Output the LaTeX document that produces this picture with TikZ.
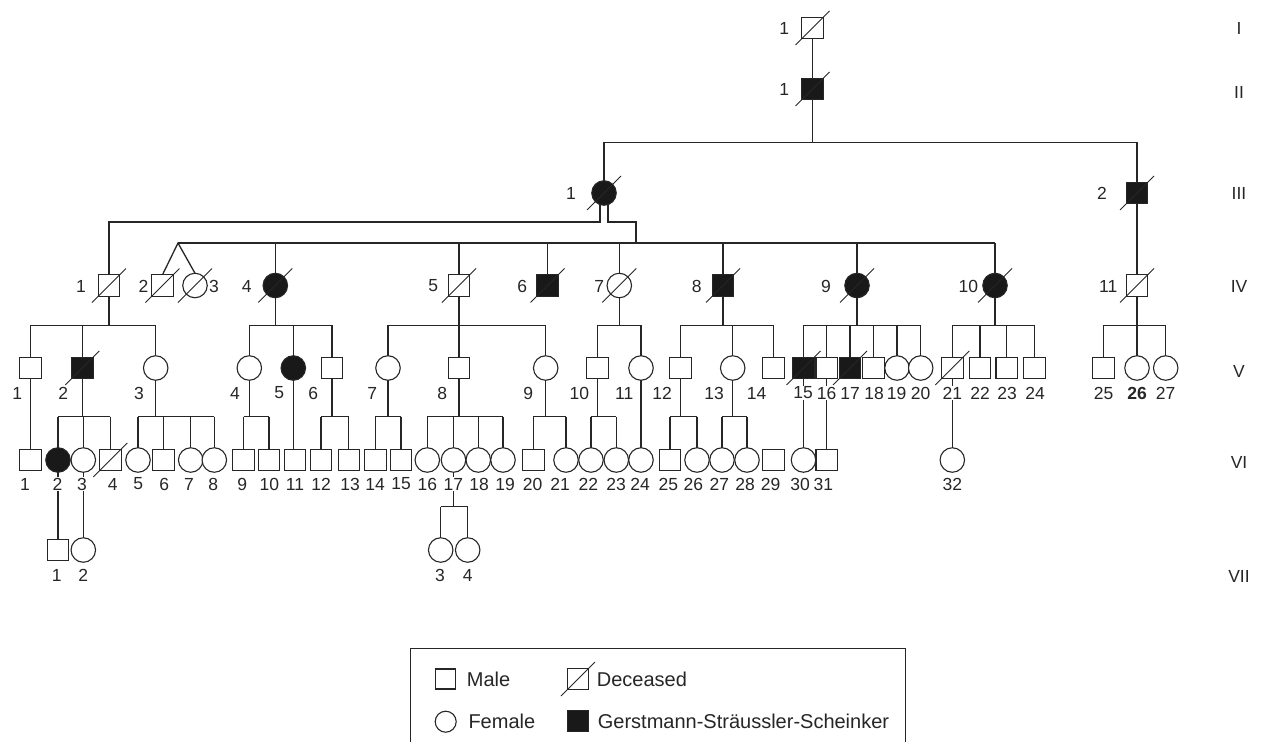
\documentclass[tikz,border=0pt]{standalone}
\usepackage{fontspec}
\setmainfont{Liberation Sans}
\newcommand\pedfam[5]{%
  \coordinate (yb) at (0,#2);
  \draw[conn] (#1.south) -- (#1.south |- yb);
  \draw[conn] (#3.north |- yb) -- (#4.north |- yb);
  \foreach \c in {#5} {\draw[conn] (\c.north |- yb) -- (\c.north);}
}
\newcommand\dead[1]{\draw[slash] ([shift={(-17,17)}]#1.center) -- ([shift={(17,-17)}]#1.center);}
\newcommand\direct[2]{\draw[conn] (#1.south) -- (#1.south |- #2.north);}
\begin{document}
\begin{tikzpicture}[x=1pt,y=-1pt,
 sym/.style={draw=black!85, line width=1.1pt, fill=white, inner sep=0pt, outer sep=0pt},
 male/.style={sym, rectangle, minimum size=21.5pt},
 female/.style={sym, circle, minimum size=24.5pt},
 aff/.style={fill=black!90},
 conn/.style={line width=1.3pt, draw=black!85},
 slash/.style={line width=0.9pt, draw=black!85},
 lbl/.style={font=\fontsize{17.5}{20}\selectfont, text=black!85, inner sep=1pt},
 lblw/.style={lbl, fill=white},
 lgd/.style={font=\fontsize{20}{22}\selectfont, text=black!85, inner sep=0pt, anchor=west}]
\useasboundingbox (0,0) rectangle (1263,742);
% ---------- symbols ----------
\node[male] (I1) at (812.5,28) {};
\node[male,aff] (II1) at (812.5,89) {};
\node[female,aff] (III1) at (604,193) {};
\node[male,aff] (III2) at (1137,193) {};
% IV
\node[male] (IV1) at (109,285.5) {};
\node[male] (IV2) at (162.5,285.5) {};
\node[female] (IV3) at (195,285.5) {};
\node[female,aff] (IV4) at (275.3,285.5) {};
\node[male] (IV5) at (459,285.5) {};
\node[male,aff] (IV6) at (547.5,285.5) {};
\node[female] (IV7) at (619.3,285.5) {};
\node[male,aff] (IV8) at (723,285.5) {};
\node[female,aff] (IV9) at (857,285.5) {};
\node[female,aff] (IV10) at (995,285.5) {};
\node[male] (IV11) at (1137,285.5) {};
% V
\node[male] (V1) at (30.5,368) {};
\node[male,aff] (V2) at (82.3,368) {};
\node[female] (V3) at (155.7,368) {};
\node[female] (V4) at (249.3,368) {};
\node[female,aff] (V5) at (293.3,368) {};
\node[male] (V6) at (332,368) {};
\node[female] (V7) at (388,368) {};
\node[male] (V8) at (459,368) {};
\node[female] (V9) at (545.7,368) {};
\node[male] (V10) at (597.3,368) {};
\node[female] (V11) at (641,368) {};
\node[male] (V12) at (680.3,368) {};
\node[female] (V13) at (732.7,368) {};
\node[male] (V14) at (773.3,368) {};
\node[male,aff] (V15) at (803.5,368) {};
\node[male] (V16) at (826.7,368) {};
\node[male,aff] (V17) at (850,368) {};
\node[male] (V18) at (873.5,368) {};
\node[female] (V19) at (897,368) {};
\node[female] (V20) at (920.7,368) {};
\node[male] (V21) at (952.3,368) {};
\node[male] (V22) at (980,368) {};
\node[male] (V23) at (1006.7,368) {};
\node[male] (V24) at (1034.3,368) {};
\node[male] (V25) at (1103.5,368) {};
\node[female] (V26) at (1137,368) {};
\node[female] (V27) at (1165.7,368) {};
% VI
\node[male] (VI1) at (30.5,460) {};
\node[female,aff] (VI2) at (58,460) {};
\node[female] (VI3) at (83.3,460) {};
\node[male] (VI4) at (110.3,460) {};
\node[female] (VI5) at (138,460) {};
\node[male] (VI6) at (163.5,460) {};
\node[female] (VI7) at (190.7,460) {};
\node[female] (VI8) at (214.3,460) {};
\node[male] (VI9) at (243.5,460) {};
\node[male] (VI10) at (269,460) {};
\node[male] (VI11) at (295,460) {};
\node[male] (VI12) at (321,460) {};
\node[male] (VI13) at (348.8,460) {};
\node[male] (VI14) at (375.3,460) {};
\node[male] (VI15) at (401,460) {};
\node[female] (VI16) at (427.3,460) {};
\node[female] (VI17) at (453.5,460) {};
\node[female] (VI18) at (478.3,460) {};
\node[female] (VI19) at (503,460) {};
\node[male] (VI20) at (533.3,460) {};
\node[female] (VI21) at (566,460) {};
\node[female] (VI22) at (591,460) {};
\node[female] (VI23) at (616.3,460) {};
\node[female] (VI24) at (641,460) {};
\node[male] (VI25) at (670,460) {};
\node[female] (VI26) at (697,460) {};
\node[female] (VI27) at (722,460) {};
\node[female] (VI28) at (747,460) {};
\node[male] (VI29) at (773.3,460) {};
\node[female] (VI30) at (803.5,460) {};
\node[male] (VI31) at (826.7,460) {};
\node[female] (VI32) at (952.3,460) {};
% VII
\node[male] (VII1) at (58,550) {};
\node[female] (VII2) at (83.3,550) {};
\node[female] (VII3) at (440.7,550) {};
\node[female] (VII4) at (467.7,550) {};
% ---------- connectors ----------
\draw[conn] (I1) -- (II1);
\coordinate (y143) at (0,142.7);
\draw[conn] (II1.south) -- (II1.south |- y143);
\draw[conn] (III1.north) -- (III1.north |- y143) -- (III2.north |- y143) -- (III2.north);
\draw[conn] (III2) -- (IV11);
\coordinate (y222) at (0,222);
\coordinate (rj) at (636,222);
\coordinate (tw) at (178,243);
\draw[conn] ([xshift=-4pt]III1.south) |- (IV1.north |- y222) -- (IV1.north);
\draw[conn] ([xshift=4pt]III1.south) |- (rj) -- (rj |- tw);
\draw[conn] (tw) -- (IV10.north |- tw);
\draw[conn] (IV2.north) -- (tw) -- (IV3.north);
\foreach \c in {IV4,IV5,IV6,IV7,IV8,IV9,IV10} {\draw[conn] (\c.north |- tw) -- (\c.north);}
\pedfam{IV1}{325.3}{V1}{V3}{V1,V2,V3}
\pedfam{IV4}{325.3}{V4}{V6}{V4,V5,V6}
\pedfam{IV5}{325.3}{V7}{V9}{V7,V8,V9}
\pedfam{IV7}{325.3}{V10}{V11}{V10,V11}
\pedfam{IV8}{325.3}{V12}{V14}{V12,V13,V14}
\pedfam{IV9}{325.3}{V15}{V20}{V15,V16,V17,V18,V19,V20}
\pedfam{IV10}{325.3}{V21}{V24}{V21,V22,V23,V24}
\pedfam{IV11}{325.3}{V25}{V27}{V25,V26,V27}
\pedfam{V2}{416.7}{VI2}{VI4}{VI2,VI3,VI4}
\pedfam{V3}{416.7}{VI5}{VI8}{VI5,VI6,VI7,VI8}
\pedfam{V4}{416.7}{VI9}{VI10}{VI9,VI10}
\pedfam{V6}{416.7}{VI12}{VI13}{VI12,VI13}
\pedfam{V7}{416.7}{VI14}{VI15}{VI14,VI15}
\pedfam{V8}{416.7}{VI16}{VI19}{VI16,VI17,VI18,VI19}
\pedfam{V9}{416.7}{VI20}{VI21}{VI20,VI21}
\pedfam{V10}{416.7}{VI22}{VI23}{VI22,VI23}
\pedfam{V12}{416.7}{VI25}{VI26}{VI25,VI26}
\pedfam{V13}{416.7}{VI27}{VI28}{VI27,VI28}
\pedfam{VI17}{506.7}{VII3}{VII4}{VII3,VII4}
\direct{V1}{VI1}
\direct{V5}{VI11}
\direct{V11}{VI24}
\direct{V15}{VI30}
\direct{V16}{VI31}
\direct{V21}{VI32}
\direct{VI2}{VII1}
\direct{VI3}{VII2}
% ---------- deceased ----------
\foreach \d in {I1,II1,III1,III2,IV1,IV2,IV3,IV4,IV5,IV6,IV7,IV8,IV9,IV10,IV11,V2,V15,V17,V21,VI4} {\dead{\d}}
% ---------- labels ----------
\node[lbl] (lI1) at (784.3,28) {1};
\node[lbl] (lII1) at (784.3,89) {1};
\node[lbl] (lIII1) at (571,193) {1};
\node[lbl] (lIII2) at (1102,193) {2};
\foreach \t/\x in {1/81,2/143.5,3/214,4/246.7,5/433.3,6/522.3,7/599.3,8/696.7,9/826,10/968.3,11/1108.3}
  {\node[lbl] at (\x,286) {\t};}
\foreach \t/\x in {1/17.3,2/63.3,3/139,4/235,5/279.3,6/313.3,7/372.3,8/442.3,9/528.3,10/579.3,11/624.3,12/662,13/714,14/756.7,15/803,16/826.5,17/850,18/874,19/896.7,20/920.5,21/952.3,22/980,23/1007,24/1035,25/1103.5,27/1165.7}
  {\node[lblw] at (\x,393) {\t};}
\node[lblw] at (1137,393) {\bfseries 26};
\foreach \t/\x in {1/25,2/57.5,3/82,4/112.7,5/138.3,6/164.3,7/189,8/213.3,9/242.3,10/269.3,11/295,12/321,13/350,14/375,15/401,16/427.3,17/453.3,18/479,19/505,20/532.7,21/560,22/588.3,23/616,24/640,25/668.3,26/693.3,27/719.3,28/745,29/770.7,30/800,31/823.3,32/952.3}
  {\node[lblw] at (\x,484) {\t};}
\foreach \t/\x in {1/56.7,2/83.3,3/440,4/467.7}
  {\node[lbl] at (\x,575) {\t};}
\foreach \t/\y in {I/28,II/92,III/193,IV/286,V/371,VI/462,VII/576}
  {\node[lbl] at (1239,\y) {\t};}
% ---------- legend ----------
\draw[line width=1pt, draw=black!85] (410,742) -- (410,648.3) -- (905,648.3) -- (905,742);
\node[male, minimum size=20pt] (Lm) at (445.7,679) {};
\node[lgd] at (466.7,679) {Male};
\node[male, minimum size=21pt] (Ld) at (578,679) {};
\dead{Ld}
\node[lgd] at (596.7,679) {Deceased};
\node[female, minimum size=21pt] (Lf) at (445.7,721.7) {};
\node[lgd] at (468.3,721.7) {Female};
\node[male, aff, minimum size=21pt] (La) at (578,721) {};
\node[lgd] at (597.7,721) {Gerstmann-Sträussler-Scheinker};
\end{tikzpicture}
\end{document}
